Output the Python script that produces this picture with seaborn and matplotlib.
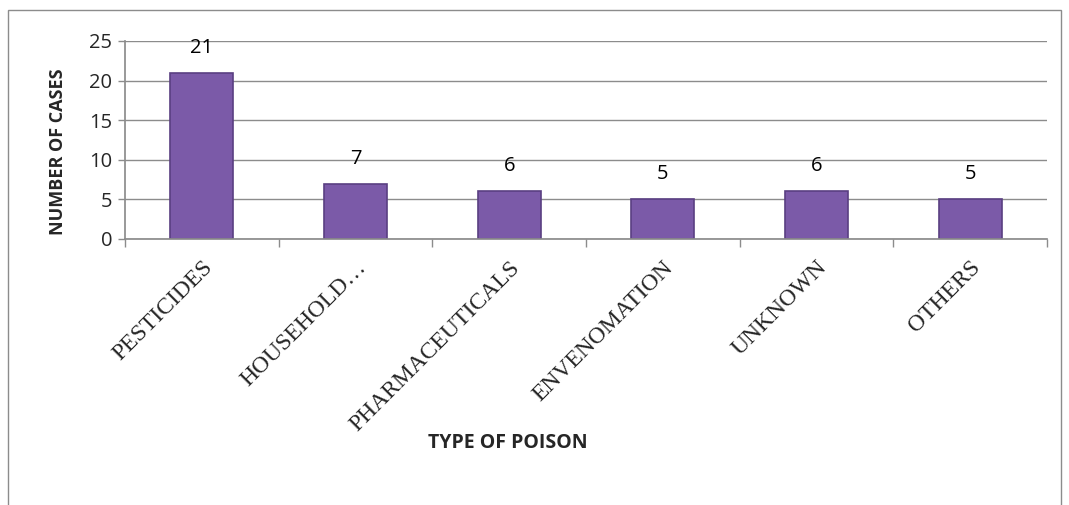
import matplotlib
matplotlib.use("Agg")
import matplotlib.pyplot as plt
import seaborn as sns
import pandas as pd
from matplotlib.patches import Rectangle

categories = ["PESTICIDES", "HOUSEHOLD…", "PHARMACEUTICALS", "ENVENOMATION", "UNKNOWN", "OTHERS"]
cases = [21, 7, 6, 5, 6, 5]

df = pd.DataFrame({"type": categories, "cases": cases})

sns.set_theme(style="white")
plt.rcParams['font.family'] = ['Open Sans', 'DejaVu Sans']

W, H = 1069, 505
fig = plt.figure(figsize=(W / 100, H / 100), dpi=100)
ax = fig.add_axes([125 / W, 1 - 239 / H, (1047 - 125) / W, (239 - 41) / H])

sns.barplot(data=df, x="type", y="cases", ax=ax, color="#7b5aa8", width=0.41,
            edgecolor="#5a3f82", linewidth=1.2, saturation=1)

for i, v in enumerate(cases):
    ax.text(i, v + 1.9, str(v), ha="center", va="bottom", fontsize=14.5, color="black")

ax.set_ylim(0, 25)
ax.set_xlim(-0.5, len(categories) - 0.5)
ax.set_yticks([0, 5, 10, 15, 20, 25])
ax.yaxis.grid(True, color="#8c8c8c", linewidth=1)
ax.set_axisbelow(True)
for s in ["top", "right"]:
    ax.spines[s].set_visible(False)
ax.spines["left"].set_color("#8c8c8c")
ax.spines["bottom"].set_color("#8c8c8c")

ax.tick_params(axis="y", labelsize=14.5, length=5, width=1, color="#8c8c8c", direction="out", left=True, pad=4)
ax.set_xticks(range(len(categories)))
ax.set_xticklabels(categories, rotation=45, ha="right", rotation_mode="anchor",
                   fontsize=17, family=["Liberation Serif", "DejaVu Serif"])
ax.tick_params(axis="x", length=0, pad=13)
ax.set_xticks([i - 0.5 for i in range(len(categories) + 1)], minor=True)
ax.tick_params(axis="x", which="minor", length=6, width=1, color="#8c8c8c", bottom=True)

ax.set_ylabel("NUMBER OF CASES", fontsize=13, fontweight="bold")
ax.yaxis.set_label_coords(-0.063, 0.44)
ax.set_xlabel("")
fig.text(508 / W, 1 - 443 / H, "TYPE OF POISON", ha="center", va="center",
         fontsize=14, fontweight="bold")

fig.patches.append(Rectangle((8 / W, -0.01), (1061 - 8) / W, 1 - 10 / H + 0.01,
                             transform=fig.transFigure, fill=False,
                             edgecolor="#8c8c8c", linewidth=1))

fig.savefig("out.png", dpi=100)
